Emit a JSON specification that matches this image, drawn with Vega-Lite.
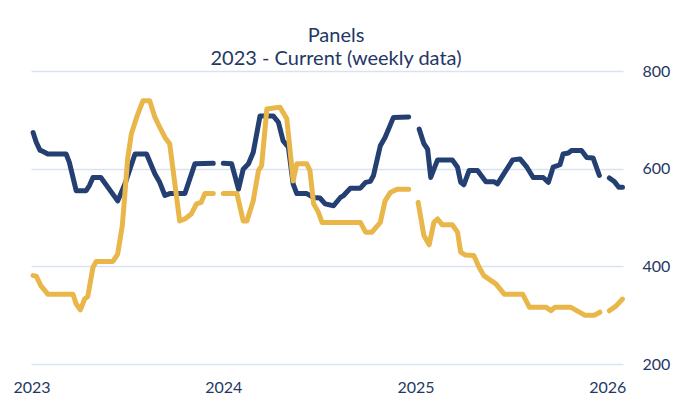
{
  "$schema": "https://vega.github.io/schema/vega-lite/v6.json",
  "width": 592,
  "height": 293,
  "autosize": {"type": "none"},
  "padding": {"left": 31, "top": 71, "right": 64, "bottom": 36},
  "background": "white",
  "config": {"view": {"stroke": null}, "font": "Lato"},
  "title": {
    "text": ["Panels", "2023 - Current (weekly data)"],
    "fontSize": 20,
    "fontWeight": "normal",
    "font": "Lato",
    "color": "#1F3864",
    "lineHeight": 23,
    "anchor": "middle",
    "offset": -6,
    "dx": 9
  },
  "data": {"values": [
    {"d":"2023-01-04","v":674,"s":"Navy","g":"n1"},
    {"d":"2023-01-10","v":654,"s":"Navy","g":"n1"},
    {"d":"2023-01-17","v":638,"s":"Navy","g":"n1"},
    {"d":"2023-01-23","v":635,"s":"Navy","g":"n1"},
    {"d":"2023-02-01","v":630,"s":"Navy","g":"n1"},
    {"d":"2023-03-08","v":630,"s":"Navy","g":"n1"},
    {"d":"2023-03-14","v":613,"s":"Navy","g":"n1"},
    {"d":"2023-03-27","v":555,"s":"Navy","g":"n1"},
    {"d":"2023-04-15","v":555,"s":"Navy","g":"n1"},
    {"d":"2023-04-21","v":565,"s":"Navy","g":"n1"},
    {"d":"2023-04-28","v":582,"s":"Navy","g":"n1"},
    {"d":"2023-05-13","v":582,"s":"Navy","g":"n1"},
    {"d":"2023-06-14","v":534,"s":"Navy","g":"n1"},
    {"d":"2023-06-28","v":569,"s":"Navy","g":"n1"},
    {"d":"2023-07-17","v":630,"s":"Navy","g":"n1"},
    {"d":"2023-08-08","v":630,"s":"Navy","g":"n1"},
    {"d":"2023-08-24","v":589,"s":"Navy","g":"n1"},
    {"d":"2023-09-02","v":572,"s":"Navy","g":"n1"},
    {"d":"2023-09-12","v":545,"s":"Navy","g":"n1"},
    {"d":"2023-09-21","v":549,"s":"Navy","g":"n1"},
    {"d":"2023-10-20","v":549,"s":"Navy","g":"n1"},
    {"d":"2023-11-08","v":610,"s":"Navy","g":"n1"},
    {"d":"2023-12-13","v":611,"s":"Navy","g":"n1"},
    {"d":"2024-01-01","v":611,"s":"Navy","g":"n2"},
    {"d":"2024-01-17","v":610,"s":"Navy","g":"n2"},
    {"d":"2024-01-30","v":558,"s":"Navy","g":"n2"},
    {"d":"2024-02-08","v":599,"s":"Navy","g":"n2"},
    {"d":"2024-02-18","v":610,"s":"Navy","g":"n2"},
    {"d":"2024-02-27","v":633,"s":"Navy","g":"n2"},
    {"d":"2024-03-11","v":708,"s":"Navy","g":"n2"},
    {"d":"2024-04-05","v":708,"s":"Navy","g":"n2"},
    {"d":"2024-04-15","v":695,"s":"Navy","g":"n2"},
    {"d":"2024-04-24","v":657,"s":"Navy","g":"n2"},
    {"d":"2024-05-04","v":644,"s":"Navy","g":"n2"},
    {"d":"2024-05-13","v":569,"s":"Navy","g":"n2"},
    {"d":"2024-05-20","v":549,"s":"Navy","g":"n2"},
    {"d":"2024-06-08","v":549,"s":"Navy","g":"n2"},
    {"d":"2024-06-21","v":541,"s":"Navy","g":"n2"},
    {"d":"2024-07-03","v":540,"s":"Navy","g":"n2"},
    {"d":"2024-07-13","v":528,"s":"Navy","g":"n2"},
    {"d":"2024-07-29","v":524,"s":"Navy","g":"n2"},
    {"d":"2024-08-11","v":541,"s":"Navy","g":"n2"},
    {"d":"2024-08-17","v":545,"s":"Navy","g":"n2"},
    {"d":"2024-08-30","v":560,"s":"Navy","g":"n2"},
    {"d":"2024-09-18","v":560,"s":"Navy","g":"n2"},
    {"d":"2024-09-28","v":572,"s":"Navy","g":"n2"},
    {"d":"2024-10-07","v":574,"s":"Navy","g":"n2"},
    {"d":"2024-10-13","v":586,"s":"Navy","g":"n2"},
    {"d":"2024-10-26","v":647,"s":"Navy","g":"n2"},
    {"d":"2024-11-04","v":664,"s":"Navy","g":"n2"},
    {"d":"2024-11-20","v":705,"s":"Navy","g":"n2"},
    {"d":"2024-12-19","v":706,"s":"Navy","g":"n2"},
    {"d":"2025-01-08","v":681,"s":"Navy","g":"n3"},
    {"d":"2025-01-17","v":651,"s":"Navy","g":"n3"},
    {"d":"2025-01-24","v":640,"s":"Navy","g":"n3"},
    {"d":"2025-01-30","v":582,"s":"Navy","g":"n3"},
    {"d":"2025-02-05","v":599,"s":"Navy","g":"n3"},
    {"d":"2025-02-12","v":618,"s":"Navy","g":"n3"},
    {"d":"2025-03-12","v":618,"s":"Navy","g":"n3"},
    {"d":"2025-03-22","v":603,"s":"Navy","g":"n3"},
    {"d":"2025-03-28","v":572,"s":"Navy","g":"n3"},
    {"d":"2025-04-03","v":567,"s":"Navy","g":"n3"},
    {"d":"2025-04-13","v":596,"s":"Navy","g":"n3"},
    {"d":"2025-04-29","v":596,"s":"Navy","g":"n3"},
    {"d":"2025-05-15","v":573,"s":"Navy","g":"n3"},
    {"d":"2025-05-31","v":573,"s":"Navy","g":"n3"},
    {"d":"2025-06-06","v":569,"s":"Navy","g":"n3"},
    {"d":"2025-06-22","v":596,"s":"Navy","g":"n3"},
    {"d":"2025-07-05","v":618,"s":"Navy","g":"n3"},
    {"d":"2025-07-19","v":620,"s":"Navy","g":"n3"},
    {"d":"2025-08-01","v":603,"s":"Navy","g":"n3"},
    {"d":"2025-08-13","v":582,"s":"Navy","g":"n3"},
    {"d":"2025-09-01","v":582,"s":"Navy","g":"n3"},
    {"d":"2025-09-11","v":572,"s":"Navy","g":"n3"},
    {"d":"2025-09-20","v":603,"s":"Navy","g":"n3"},
    {"d":"2025-10-03","v":608,"s":"Navy","g":"n3"},
    {"d":"2025-10-09","v":630,"s":"Navy","g":"n3"},
    {"d":"2025-10-19","v":632,"s":"Navy","g":"n3"},
    {"d":"2025-10-25","v":637,"s":"Navy","g":"n3"},
    {"d":"2025-11-13","v":637,"s":"Navy","g":"n3"},
    {"d":"2025-11-23","v":623,"s":"Navy","g":"n3"},
    {"d":"2025-12-05","v":622,"s":"Navy","g":"n3"},
    {"d":"2025-12-17","v":586,"s":"Navy","g":"n3"},
    {"d":"2026-01-05","v":581,"s":"Navy","g":"n4"},
    {"d":"2026-01-15","v":573,"s":"Navy","g":"n4"},
    {"d":"2026-01-23","v":562,"s":"Navy","g":"n4"},
    {"d":"2026-01-30","v":562,"s":"Navy","g":"n4"},
    {"d":"2023-01-04","v":381,"s":"Gold","g":"g1"},
    {"d":"2023-01-10","v":380,"s":"Gold","g":"g1"},
    {"d":"2023-01-19","v":360,"s":"Gold","g":"g1"},
    {"d":"2023-02-01","v":343,"s":"Gold","g":"g1"},
    {"d":"2023-03-21","v":343,"s":"Gold","g":"g1"},
    {"d":"2023-03-27","v":323,"s":"Gold","g":"g1"},
    {"d":"2023-04-04","v":311,"s":"Gold","g":"g1"},
    {"d":"2023-04-12","v":333,"s":"Gold","g":"g1"},
    {"d":"2023-04-18","v":338,"s":"Gold","g":"g1"},
    {"d":"2023-04-28","v":398,"s":"Gold","g":"g1"},
    {"d":"2023-05-04","v":410,"s":"Gold","g":"g1"},
    {"d":"2023-06-05","v":410,"s":"Gold","g":"g1"},
    {"d":"2023-06-14","v":425,"s":"Gold","g":"g1"},
    {"d":"2023-06-23","v":485,"s":"Gold","g":"g1"},
    {"d":"2023-07-03","v":620,"s":"Gold","g":"g1"},
    {"d":"2023-07-10","v":671,"s":"Gold","g":"g1"},
    {"d":"2023-07-20","v":705,"s":"Gold","g":"g1"},
    {"d":"2023-08-01","v":739,"s":"Gold","g":"g1"},
    {"d":"2023-08-14","v":739,"s":"Gold","g":"g1"},
    {"d":"2023-08-24","v":705,"s":"Gold","g":"g1"},
    {"d":"2023-09-02","v":685,"s":"Gold","g":"g1"},
    {"d":"2023-09-12","v":664,"s":"Gold","g":"g1"},
    {"d":"2023-09-21","v":651,"s":"Gold","g":"g1"},
    {"d":"2023-10-10","v":493,"s":"Gold","g":"g1"},
    {"d":"2023-10-20","v":497,"s":"Gold","g":"g1"},
    {"d":"2023-11-01","v":507,"s":"Gold","g":"g1"},
    {"d":"2023-11-11","v":528,"s":"Gold","g":"g1"},
    {"d":"2023-11-20","v":531,"s":"Gold","g":"g1"},
    {"d":"2023-11-27","v":549,"s":"Gold","g":"g1"},
    {"d":"2023-12-13","v":549,"s":"Gold","g":"g1"},
    {"d":"2024-01-01","v":549,"s":"Gold","g":"g2"},
    {"d":"2024-01-27","v":549,"s":"Gold","g":"g2"},
    {"d":"2024-02-08","v":493,"s":"Gold","g":"g2"},
    {"d":"2024-02-15","v":493,"s":"Gold","g":"g2"},
    {"d":"2024-02-27","v":534,"s":"Gold","g":"g2"},
    {"d":"2024-03-08","v":596,"s":"Gold","g":"g2"},
    {"d":"2024-03-14","v":606,"s":"Gold","g":"g2"},
    {"d":"2024-03-24","v":722,"s":"Gold","g":"g2"},
    {"d":"2024-04-18","v":726,"s":"Gold","g":"g2"},
    {"d":"2024-05-01","v":702,"s":"Gold","g":"g2"},
    {"d":"2024-05-13","v":575,"s":"Gold","g":"g2"},
    {"d":"2024-05-20","v":610,"s":"Gold","g":"g2"},
    {"d":"2024-06-08","v":610,"s":"Gold","g":"g2"},
    {"d":"2024-06-14","v":596,"s":"Gold","g":"g2"},
    {"d":"2024-06-21","v":528,"s":"Gold","g":"g2"},
    {"d":"2024-06-30","v":511,"s":"Gold","g":"g2"},
    {"d":"2024-07-07","v":490,"s":"Gold","g":"g2"},
    {"d":"2024-09-18","v":490,"s":"Gold","g":"g2"},
    {"d":"2024-09-28","v":470,"s":"Gold","g":"g2"},
    {"d":"2024-10-10","v":470,"s":"Gold","g":"g2"},
    {"d":"2024-10-26","v":490,"s":"Gold","g":"g2"},
    {"d":"2024-11-04","v":534,"s":"Gold","g":"g2"},
    {"d":"2024-11-14","v":551,"s":"Gold","g":"g2"},
    {"d":"2024-11-27","v":558,"s":"Gold","g":"g2"},
    {"d":"2024-12-19","v":558,"s":"Gold","g":"g2"},
    {"d":"2025-01-06","v":531,"s":"Gold","g":"g3"},
    {"d":"2025-01-17","v":463,"s":"Gold","g":"g3"},
    {"d":"2025-01-27","v":444,"s":"Gold","g":"g3"},
    {"d":"2025-02-05","v":490,"s":"Gold","g":"g3"},
    {"d":"2025-02-12","v":497,"s":"Gold","g":"g3"},
    {"d":"2025-02-21","v":485,"s":"Gold","g":"g3"},
    {"d":"2025-03-12","v":485,"s":"Gold","g":"g3"},
    {"d":"2025-03-22","v":470,"s":"Gold","g":"g3"},
    {"d":"2025-03-28","v":429,"s":"Gold","g":"g3"},
    {"d":"2025-04-06","v":423,"s":"Gold","g":"g3"},
    {"d":"2025-04-22","v":422,"s":"Gold","g":"g3"},
    {"d":"2025-05-02","v":398,"s":"Gold","g":"g3"},
    {"d":"2025-05-11","v":381,"s":"Gold","g":"g3"},
    {"d":"2025-06-03","v":364,"s":"Gold","g":"g3"},
    {"d":"2025-06-19","v":343,"s":"Gold","g":"g3"},
    {"d":"2025-07-24","v":343,"s":"Gold","g":"g3"},
    {"d":"2025-08-06","v":316,"s":"Gold","g":"g3"},
    {"d":"2025-09-07","v":316,"s":"Gold","g":"g3"},
    {"d":"2025-09-16","v":309,"s":"Gold","g":"g3"},
    {"d":"2025-09-23","v":316,"s":"Gold","g":"g3"},
    {"d":"2025-10-24","v":316,"s":"Gold","g":"g3"},
    {"d":"2025-11-19","v":300,"s":"Gold","g":"g3"},
    {"d":"2025-12-08","v":300,"s":"Gold","g":"g3"},
    {"d":"2025-12-18","v":306,"s":"Gold","g":"g3"},
    {"d":"2026-01-05","v":309,"s":"Gold","g":"g4"},
    {"d":"2026-01-18","v":319,"s":"Gold","g":"g4"},
    {"d":"2026-01-30","v":333,"s":"Gold","g":"g4"}
  ]},
  "mark": {"type": "line", "strokeWidth": 5, "strokeCap": "round", "strokeJoin": "round", "clip": false},
  "encoding": {
    "x": {
      "field": "d", "type": "temporal",
      "scale": {"type": "utc", "domain": [{"year": 2022, "month": 12, "date": 31, "utc": true}, {"year": 2026, "month": 1, "date": 31, "utc": true}]},
      "axis": {
        "title": null, "domain": false, "ticks": false, "grid": false,
        "values": [{"year": 2023, "month": 1, "date": 1, "utc": true}, {"year": 2024, "month": 1, "date": 1, "utc": true}, {"year": 2025, "month": 1, "date": 1, "utc": true}, {"year": 2026, "month": 1, "date": 1, "utc": true}],
        "format": "%Y", "formatType": "utc",
        "labelFont": "Lato", "labelFontSize": 16, "labelColor": "#1F3864",
        "labelPadding": 15, "labelFlush": false, "labelOverlap": false
      }
    },
    "y": {
      "field": "v", "type": "quantitative",
      "scale": {"domain": [200, 800], "nice": false, "zero": false},
      "axis": {
        "orient": "right", "title": null, "domain": false, "ticks": false,
        "values": [200, 400, 600, 800],
        "grid": true, "gridColor": "#D9E2F1", "gridWidth": 1.5,
        "labelFont": "Lato", "labelFontSize": 16, "labelColor": "#1F3864",
        "labelPadding": 19
      }
    },
    "color": {
      "field": "s", "type": "nominal",
      "scale": {"domain": ["Navy", "Gold"], "range": ["#243F72", "#E8B649"]},
      "legend": null
    },
    "detail": {"field": "g"},
    "order": {"field": "d", "type": "temporal"}
  }
}
